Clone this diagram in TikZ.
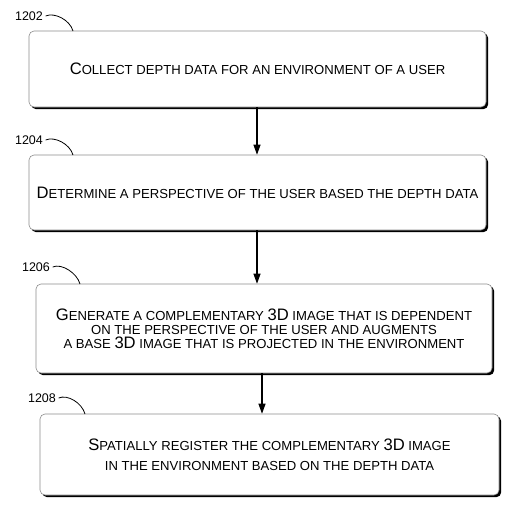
\documentclass[tikz,border=0pt]{standalone}
\usepackage{fontspec}
\setmainfont{Liberation Sans}
\usetikzlibrary{arrows.meta,shadows}
\newcommand\bg[1]{{\fontsize{16.6}{16}\selectfont #1}}
\tikzset{
  stepbox/.style={draw=black!45, line width=0.6pt, fill=white, rounded corners=5pt, align=center,
    font=\fontsize{13.1}{14.2}\selectfont, inner sep=0pt,
    drop shadow={shadow xshift=2.2pt, shadow yshift=-2.2pt, fill=black, opacity=1}},
  reflabel/.style={font=\fontsize{12.5}{14}\selectfont, inner sep=0pt},
  leader/.style={draw=black, line width=0.8pt},
  arr/.style={draw=black, line width=1.1pt, -{Triangle[length=10pt,width=7pt]}}
}
\begin{document}
\begin{tikzpicture}[x=1pt,y=-1pt]
\useasboundingbox (0,0) rectangle (511,504);
\node[stepbox, minimum width=457pt, minimum height=76pt] (b1) at (257.5,69) {\bg{C}OLLECT DEPTH DATA FOR AN ENVIRONMENT OF A USER};
\node[stepbox, minimum width=457pt, minimum height=75pt] (b2) at (257.5,192.5) {\bg{D}ETERMINE A PERSPECTIVE OF THE USER BASED THE DEPTH DATA};
\node[stepbox, minimum width=456pt, minimum height=89pt] (b3) at (264,328.5) {\bg{G}ENERATE A COMPLEMENTARY \bg{3D} IMAGE THAT IS DEPENDENT\\ON THE PERSPECTIVE OF THE USER AND AUGMENTS\\A BASE \bg{3D} IMAGE THAT IS PROJECTED IN THE ENVIRONMENT};
\node[stepbox, minimum width=459pt, minimum height=81pt, font=\fontsize{13.1}{20}\selectfont] (b4) at (269.5,454.5) {\bg{S}PATIALLY REGISTER THE COMPLEMENTARY \bg{3D} IMAGE\\IN THE ENVIRONMENT BASED ON THE DEPTH DATA};
\node[reflabel] (l1) at (29,16) {1202};
\node[reflabel] (l2) at (29,140) {1204};
\node[reflabel] (l3) at (36,267) {1206};
\node[reflabel] (l4) at (42,398) {1208};
\coordinate (e1) at (73,31);
\coordinate (e2) at (73,155);
\coordinate (e3) at (80,284);
\coordinate (e4) at (85,414);
\draw[leader] ([xshift=2.5pt]l1.east) .. controls +(9,-4) and +(-3,-11) .. (e1);
\draw[leader] ([xshift=2.5pt]l2.east) .. controls +(9,-4) and +(-3,-11) .. (e2);
\draw[leader] ([xshift=2.5pt]l3.east) .. controls +(9,-4) and +(-3,-11) .. (e3);
\draw[leader] ([xshift=2.5pt]l4.east) .. controls +(9,-4) and +(-3,-11) .. (e4);
\coordinate (ax) at (257,0);
\coordinate (bx) at (262,0);
\draw[arr] (b1.south -| ax) -- (b2.north -| ax);
\draw[arr] (b2.south -| ax) -- (b3.north -| ax);
\draw[arr] (b3.south -| bx) -- (b4.north -| bx);
\end{tikzpicture}
\end{document}
